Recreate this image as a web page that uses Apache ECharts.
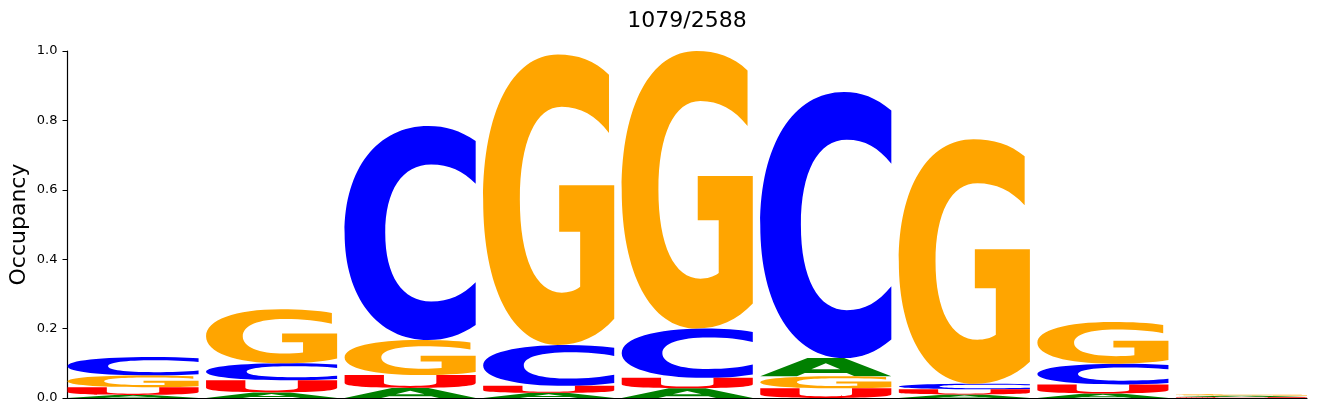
<!DOCTYPE html>
<html>
<head>
<meta charset="utf-8">
<script src="https://cdn.jsdelivr.net/npm/echarts@6.0.0/dist/echarts.min.js"></script>
<style>
  html, body { margin: 0; padding: 0; background: #fff; }
  #main { width: 1317px; height: 416px; }
</style>
</head>
<body>
<div id="main"></div>
<script>
// positions along the motif
var positions = [1, 2, 3, 4, 5, 6, 7, 8, 9];
// occupancy per letter at each position
var letterA = [0.009, 0.016, 0.029, 0.015, 0.028, 0.052, 0.010, 0.013, 0.0035];
var letterC = [0.053, 0.049, 0.617, 0.118, 0.142, 0.767, 0.016, 0.060, 0.0];
var letterG = [0.034, 0.156, 0.101, 0.837, 0.800, 0.035, 0.705, 0.120, 0.004];
var letterU = [0.022, 0.035, 0.037, 0.020, 0.030, 0.028, 0.015, 0.026, 0.003];
var yTicks = [0, 0.2, 0.4, 0.6, 0.8, 1.0];
var titleText = '1079/2588';

var colors = { A: '#008000', C: '#0000ff', G: '#ffa500', U: '#ff0000' };
var halfWidth = 0.473; // half of a glyph's width, in position units

// glyph outlines in a 100x100 box, stretched to each letter's box
var glyphs = {
  A: 'M0 100 L36 0 L64 0 L100 100 L72 100 L66 82 L34 82 L28 100 Z M39 62 L61 62 L50 28 Z',
  C: 'M100 7 C88 2 77 0 64 0 C25 0 0 20 0 50 C0 80 25 100 64 100 C77 100 88 98 100 93 ' +
     'L100 73 C90 79 80 82 66 82 C44 82 31 70 31 50 C31 30 44 18 66 18 C80 18 90 21 100 27 Z',
  G: 'M96 7 C85 2 72 0 57 0 C22 0 0 20 0 50 C0 80 22 100 57 100 C74 100 88 97 100 91 ' +
     'L100 45 L58 45 L58 61 L74 61 L74 80 C70 81.5 65 82 60 82 C40 82 28 70 28 50 ' +
     'C28 30 40 18 60 18 C74 18 86 21 96 27 Z',
  U: 'M0 0 L30 0 L30 62 C30 78 38 84 50 84 C62 84 70 78 70 62 L70 0 L100 0 L100 62 ' +
     'C100 88 82 100 50 100 C18 100 0 88 0 62 Z'
};

// stack letters in each column, smallest at the bottom
function buildStacks() {
  var values = { A: letterA, C: letterC, G: letterG, U: letterU };
  var out = { A: [], C: [], G: [], U: [] };
  for (var i = 0; i < positions.length; i++) {
    var col = ['A', 'C', 'G', 'U'].map(function (k) { return { k: k, v: values[k][i] }; });
    col.sort(function (a, b) { return a.v - b.v; });
    var base = 0;
    col.forEach(function (c) {
      out[c.k].push([positions[i], base, c.v]);
      base += c.v;
    });
  }
  return out;
}

function makeSeries(letter, data) {
  return {
    type: 'custom',
    name: letter,
    data: data,
    renderItem: function (params, api) {
      var x = api.value(0), base = api.value(1), h = api.value(2);
      if (h <= 0) return null;
      var p1 = api.coord([x - halfWidth, base + h]);
      var p2 = api.coord([x + halfWidth, base]);
      return {
        type: 'path',
        shape: {
          pathData: glyphs[letter],
          x: p1[0], y: p1[1],
          width: p2[0] - p1[0], height: p2[1] - p1[1],
          layout: 'cover'
        },
        style: { fill: colors[letter] }
      };
    }
  };
}

var stacks = buildStacks();
var myChart = echarts.init(document.getElementById('main'));
var option = {
  animation: false,
  textStyle: { fontFamily: 'DejaVu Sans' },
  title: {
    text: titleText,
    left: 682,
    textAlign: 'center',
    top: 5,
    textStyle: { fontSize: 22, fontWeight: 'normal', color: '#000', fontFamily: 'DejaVu Sans' }
  },
  grid: { left: 67.5, right: 10, top: 51, bottom: 18, outerBoundsMode: 'none' },
  xAxis: {
    type: 'value',
    min: positions[0] - halfWidth,
    max: positions[positions.length - 1] + halfWidth,
    axisLine: { show: true, lineStyle: { color: '#000', width: 1.2 } },
    axisTick: { show: false },
    axisLabel: { show: false },
    splitLine: { show: false }
  },
  yAxis: {
    type: 'value', min: yTicks[0], max: yTicks[yTicks.length - 1], interval: 0.2,
    name: 'Occupancy',
    nameLocation: 'middle',
    nameGap: 37,
    nameMoveOverlap: false,
    nameTextStyle: { fontSize: 22, color: '#000', fontFamily: 'DejaVu Sans' },
    axisLine: { show: true, lineStyle: { color: '#000', width: 1.2 } },
    axisTick: { show: true, length: 5, lineStyle: { color: '#000' } },
    axisLabel: {
      color: '#000', fontSize: 13, margin: 10, fontFamily: 'DejaVu Sans',
      formatter: function (v) { return v.toFixed(1); }
    },
    splitLine: { show: false }
  },
  series: [
    makeSeries('A', stacks.A),
    makeSeries('C', stacks.C),
    makeSeries('G', stacks.G),
    makeSeries('U', stacks.U)
  ]
};
myChart.setOption(option);
</script>
</body>
</html>
